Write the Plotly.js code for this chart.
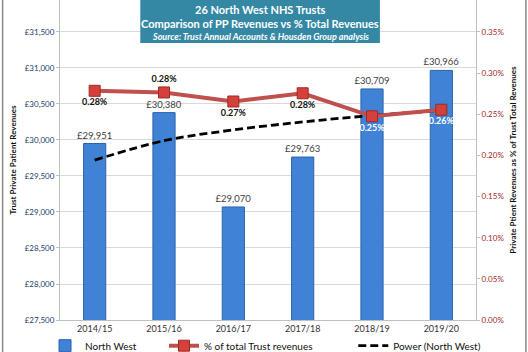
<!DOCTYPE html>
<html><head><meta charset="utf-8">
<script src="https://cdn.plot.ly/plotly-3.0.1.min.js"></script>
<style>html,body{margin:0;padding:0;background:#fff}#c{width:528px;height:352px}</style>
</head><body><div id="c"></div>
<script>
const years = ["2014/15","2015/16","2016/17","2017/18","2018/19","2019/20"];
const revenues = [29951, 30380, 29070, 29763, 30709, 30966];
const pctOfTotal = [0.002785, 0.002765, 0.002655, 0.002755, 0.002475, 0.002555];
const powerTrend = [29720, 29990, 30140, 30250, 30340, 30410];
const pctLabelPos = ["bottom center","top center","bottom center","bottom center","bottom center","bottom center"];
const pctLabelColor = ["#111","#111","#111","#111","#fff","#fff"];

const F = "Lato, 'Open Sans', sans-serif";
const traces = [
  {type:"bar", name:"North West", x:years, y:revenues, yaxis:"y", legend:"legend",
   marker:{color:"#3f82d6", line:{color:"#2c62ad", width:1}}, width:0.32,
   texttemplate:"£%{y:,.0f}", textposition:"outside", cliponaxis:false, constraintext:"none",
   textfont:{family:F, size:9.5, color:"#404040"}, hoverinfo:"skip"},
  {type:"scatter", mode:"lines+markers+text", name:"% of total Trust revenues", x:years, y:pctOfTotal, yaxis:"y2", legend:"legend2",
   line:{color:"#c0504d", width:4}, marker:{symbol:"square", size:11, color:"#d6403b", line:{color:"#9c2a26", width:1}},
   texttemplate:"%{y:.2%}", textposition:pctLabelPos, cliponaxis:false,
   textfont:{family:F, size:9, color:pctLabelColor, weight:"bold"}, hoverinfo:"skip"},
  {type:"scatter", mode:"lines", name:"Power (North West)", x:years, y:powerTrend, yaxis:"y", legend:"legend3",
   line:{color:"#000", width:2.8, dash:"8px,4px", shape:"spline"}, hoverinfo:"skip"}
];
const yTop = 31944;
const legBase = {orientation:"h", y:-0.035, yanchor:"top", xanchor:"left", font:{family:F, size:10, color:"#111"}, bgcolor:"rgba(0,0,0,0)", itemwidth:30};
const layout = {
  width:528, height:352, margin:{l:60, r:52, t:0, b:32, autoexpand:false},
  paper_bgcolor:"#fff", plot_bgcolor:"#fff", showlegend:true,
  font:{family:F, size:9, color:"#222"},
  xaxis:{type:"category", showgrid:false, showline:true, linecolor:"#bfbfbf", ticks:"",
         tickfont:{family:F, size:9, color:"#333"}},
  yaxis:{range:[27500, yTop], tick0:27500, dtick:500, tickprefix:"£", tickformat:",d",
         showgrid:true, gridcolor:"#d9d9d9", showline:true, linecolor:"#bfbfbf", zeroline:false,
         ticks:"outside", ticklen:3, tickcolor:"#bfbfbf",
         tickfont:{family:F, size:8, color:"#24406a"},
         title:{text:"Trust Private Patient Revenues", standoff:6, font:{family:F, size:8, color:"#111", weight:"bold"}}},
  yaxis2:{overlaying:"y", side:"right", range:[0, 0.0035*(yTop-27500)/4000], tick0:0, dtick:0.0005, tickformat:".2%",
          showgrid:false, showline:true, linecolor:"#bfbfbf", zeroline:false,
          ticks:"outside", ticklen:3, tickcolor:"#bfbfbf",
          tickfont:{family:F, size:8, color:"#a3262a"},
          title:{text:"Private Ptient Revenues as % of Trust Total Revenues", standoff:6, font:{family:F, size:8, color:"#111", weight:"bold"}}},
  legend:Object.assign({}, legBase, {x:-0.036}),
  legend2:Object.assign({}, legBase, {x:0.25}),
  legend3:Object.assign({}, legBase, {x:0.705}),
  shapes:[
    {type:"rect", xref:"paper", yref:"paper", x0:0.193, x1:0.769, y0:0.866, y1:1.0, fillcolor:"#3488a4", line:{width:0}, layer:"above"},
    {type:"line", xref:"paper", yref:"paper", x0:-0.138, x1:-0.138, y0:-0.1, y1:1.0, line:{color:"#888", width:1.5}},
    {type:"line", xref:"paper", yref:"paper", x0:1.12, x1:1.12, y0:-0.1, y1:1.0, line:{color:"#888", width:1.5}}
  ],
  annotations:[
    {xref:"paper", yref:"paper", x:0.481, y:0.997, yanchor:"top", showarrow:false,
     text:"<b>26 North West NHS Trusts</b>", font:{family:F, size:11, color:"#fff"}},
    {xref:"paper", yref:"paper", x:0.481, y:0.952, yanchor:"top", showarrow:false,
     text:"<b>Comparison of PP Revenues vs % Total Revenues</b>", font:{family:F, size:11, color:"#fff"}},
    {xref:"paper", yref:"paper", x:0.481, y:0.908, yanchor:"top", showarrow:false,
     text:"<b><i>Source: Trust Annual Accounts &amp; Housden Group analysis</i></b>", font:{family:F, size:9, color:"#fff"}}
  ]
};
Plotly.newPlot("c", traces, layout, {staticPlot:true, displayModeBar:false});
</script></body></html>
